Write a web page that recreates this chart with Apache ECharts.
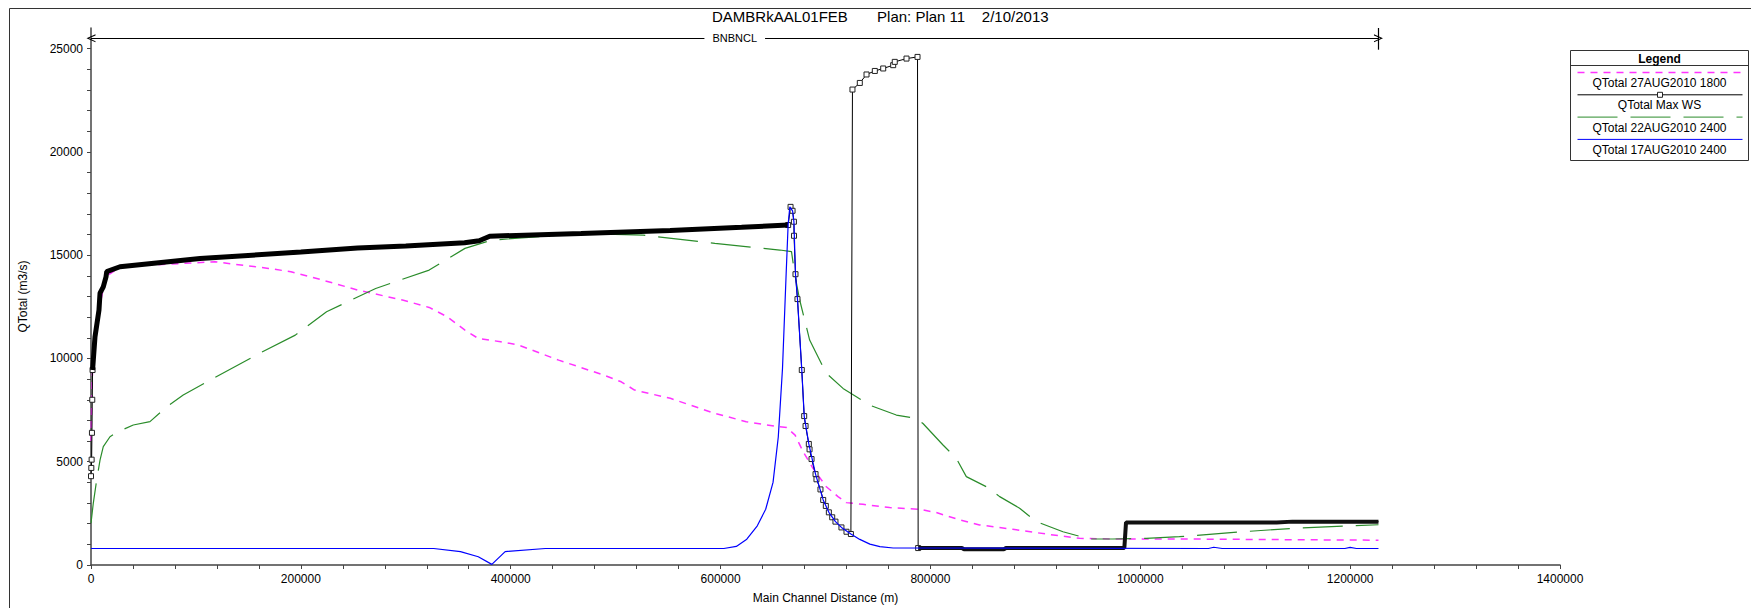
<!DOCTYPE html>
<html>
<head>
<meta charset="utf-8">
<script src="https://cdn.jsdelivr.net/npm/echarts@6/dist/echarts.min.js"></script>
<style>
  html, body { margin: 0; padding: 0; background: #fff; }
  #chart { width: 1751px; height: 608px; }
</style>
</head>
<body>
<div id="chart"></div>
<script>
// axis ticks
const xTickLabels = [0, 200000, 400000, 600000, 800000, 1000000, 1200000, 1400000]
const yTickLabels = [0, 5000, 10000, 15000, 20000, 25000]

// QTotal 27AUG2010 1800 (magenta dashed)
const aug27Dist = [0, 700, 1500, 3800, 7600, 11700, 15000, 28800, 118200, 169200, 190500, 220300, 254300, 296800,
  322300, 339400, 356400, 369100, 390400, 407400, 445700, 488300, 505300, 518000, 552100, 594600, 624400, 654200,
  663000, 671000, 678600, 688100, 700800, 711900, 719800, 735700, 761100, 789600, 805500, 827700, 846800, 878500,
  910300, 942000, 973800, 1037300, 1130000, 1227000]
const aug27Q = [6000, 8000, 9500, 11000, 12300, 13400, 14000, 14450, 14680, 14360, 14200, 13800, 13310, 12830,
  12470, 12020, 11370, 10970, 10810, 10650, 9920, 9200, 8870, 8470, 8070, 7340, 6940, 6700,
  6660, 6290, 5490, 4680, 3790, 3310, 3020, 2940, 2780, 2700, 2540, 2190, 1940, 1730,
  1500, 1290, 1260, 1260, 1230, 1200]

// QTotal Max WS (black with square markers)
const maxWsDist = [0, 300, 600, 900, 1200, 1500, 3800, 7600, 8600, 11700, 14300, 15000, 27600, 103900, 200000,
  254000, 300000, 356000, 370000, 380000, 467000, 552000, 620000, 664400, 666700, 668600, 669900, 670000, 671400,
  673300, 677400, 679700, 681000, 684100, 684800, 686700, 690500, 691400, 695200, 697800, 700300, 703200, 706400,
  709500, 715200, 720000, 724200, 725700, 732700, 739100, 747000, 755000, 764500, 766000, 777200, 787700, 788300,
  830000, 832000, 870000, 872000, 984800, 986400, 1130000, 1145000, 1227000]
const maxWsQ = [4300, 4700, 5100, 6400, 8000, 9440, 11050, 12340, 13160, 13470, 13950, 14200, 14440, 14840, 15150,
  15350, 15450, 15600, 15700, 15920, 16050, 16200, 16350, 16460, 17340, 17150, 16620, 15940, 14080,
  12875, 9440, 7210, 6730, 5860, 5600, 5130, 4400, 4150, 3660, 3150, 2860, 2550, 2310,
  2100, 1820, 1610, 1500, 23020, 23340, 23750, 23920, 24040, 24200, 24360, 24520, 24600, 820,
  820, 760, 760, 820, 820, 2060, 2060, 2100, 2100]

// QTotal 22AUG2010 2400 (green long dash)
const aug22Dist = [0, 2200, 5400, 8600, 11700, 18100, 25700, 40300, 56200, 72100, 87900, 113400, 160700, 194700,
  224500, 271300, 322300, 356400, 381900, 467000, 526500, 594600, 656500, 667600, 670600, 675400, 684900, 691300,
  700800, 716700, 729400, 742100, 767500, 786600, 792900, 812000, 824700, 834200, 853300, 866000, 885000, 900900,
  926300, 951700, 973900, 1005600, 1037300, 1100000, 1150000, 1227000]
const aug22Q = [2030, 3000, 4110, 5080, 5730, 6210, 6450, 6780, 6940, 7660, 8230, 8950, 10250, 11130,
  12260, 13390, 14280, 15330, 15730, 16050, 15970, 15570, 15250, 15170, 14110, 12830, 10890, 10240,
  9280, 8550, 8150, 7740, 7260, 7100, 6850, 5810, 5160, 4280, 3790, 3310, 2750, 2100,
  1610, 1260, 1260, 1290, 1370, 1620, 1790, 1950]

// QTotal 17AUG2010 2400 (blue)
const aug17Dist = [0, 110000, 326600, 352100, 369100, 382000, 394700, 433000, 603100, 615000, 625000, 635000,
  643000, 650000, 655000, 659000, 662500, 664400, 666000, 668600, 669900, 671400, 673300, 677400, 679700, 684100,
  690500, 697800, 703200, 709500, 715200, 724200, 732700, 742300, 751800, 764500, 1065000, 1070000, 1078000,
  1195000, 1200000, 1206000, 1227000]
const aug17Q = [800, 800, 800, 650, 400, 30, 650, 800, 800, 900, 1250, 1900,
  2700, 4000, 6200, 9500, 14100, 16500, 17340, 17150, 16620, 14080, 12875, 9440, 7210, 5860,
  4400, 3150, 2550, 2100, 1820, 1500, 1240, 1010, 890, 823, 800, 860, 800,
  800, 850, 800, 800]

const seriesNames = ['QTotal 27AUG2010 1800', 'QTotal Max WS', 'QTotal 22AUG2010 2400', 'QTotal 17AUG2010 2400']
const seriesColors = ['#ff33ff', '#000000', '#2a8c2a', '#0000ff']
const seriesDash = [[7, 6], 'solid', [40, 13], 'solid']

const zip = (d, q) => d.map((x, i) => [x, q[i]])
const maxWsPoints = zip(maxWsDist, maxWsQ)

const FONT = "'Liberation Sans', Arial, sans-serif"

// minor ticks for axes
const yMinor = []
for (let v = 0; v <= 25000; v += 1000) yMinor.push(v)
const xMinor = []
for (let v = 0; v <= 1400000; v += 40000) xMinor.push(v)

const chevron = 'path://M0,10 L5,0 L10,10 L8.6,10 L5,2.8 L1.4,10 Z'

// the band stretches are so dense with markers that they read as a thick line
const inBand = x => (x > 1500 && x < 664400) || x > 788300

// legend box built from the series names/styles
const legendChildren = [
  { type: 'rect', shape: { x: 0, y: 0, width: 178, height: 110 }, style: { fill: '#fff', stroke: '#333', lineWidth: 1 } },
  { type: 'line', shape: { x1: 0, y1: 15, x2: 178, y2: 15 }, style: { stroke: '#333', lineWidth: 1 } },
  { type: 'text', x: 89, y: 8, style: { text: 'Legend', font: 'bold 12px ' + FONT, fill: '#000', align: 'center', verticalAlign: 'middle' } }
]
seriesNames.forEach((name, i) => {
  const ly = 22 + i * 22.3
  legendChildren.push({
    type: 'line',
    shape: { x1: 7, y1: ly, x2: 172, y2: ly },
    style: { stroke: seriesColors[i], lineWidth: i === 0 ? 1.5 : 1, lineDash: seriesDash[i] === 'solid' ? null : seriesDash[i] }
  })
  if (i === 1) {
    legendChildren.push({ type: 'rect', shape: { x: 87, y: ly - 2.5, width: 5, height: 5 }, style: { fill: '#fff', stroke: '#222', lineWidth: 1 } })
  }
  legendChildren.push({
    type: 'text', x: 89, y: ly + 10.5,
    style: { text: name, font: '12px ' + FONT, fill: '#000', align: 'center', verticalAlign: 'middle' }
  })
})

const chart = echarts.init(document.getElementById('chart'), null, { renderer: 'svg' })

const sp = n => '\u00a0'.repeat(n)

const option = {
  animation: false,
  backgroundColor: '#fff',
  textStyle: { fontFamily: FONT },
  title: {
    text: 'DAMBRkAAL01FEB' + sp(7) + 'Plan: Plan 11' + sp(4) + '2/10/2013',
    left: 712,
    top: 9,
    padding: 0,
    textStyle: { fontSize: 15, fontWeight: 'normal', color: '#000', fontFamily: FONT }
  },
  grid: {
    left: 91,
    right: 191,
    top: 28,
    bottom: 43,
    containLabel: false,
    outerBoundsMode: 'none'
  },
  xAxis: {
    type: 'value',
    min: 0,
    max: 1400000,
    name: 'Main Channel Distance (m)',
    nameLocation: 'middle',
    nameGap: 27,
    nameTextStyle: { fontSize: 12, color: '#000', fontFamily: FONT },
    axisLine: { show: true, onZero: false, lineStyle: { color: '#444', width: 1.5 } },
    axisTick: { show: true, customValues: xMinor, length: 4, lineStyle: { color: '#444' } },
    axisLabel: { customValues: xTickLabels, fontSize: 12, color: '#000', margin: 8, fontFamily: FONT, formatter: v => String(v) },
    splitLine: { show: false }
  },
  yAxis: {
    type: 'value',
    min: 0,
    max: 26000,
    name: 'QTotal (m3/s)',
    nameLocation: 'middle',
    nameGap: 62,
    nameRotate: 90,
    nameTextStyle: { fontSize: 12, color: '#000', fontFamily: FONT },
    axisLine: { show: true, onZero: false, lineStyle: { color: '#444', width: 1.5 } },
    axisTick: { show: true, customValues: yMinor, length: 4, lineStyle: { color: '#444' } },
    axisLabel: { customValues: yTickLabels, fontSize: 12, color: '#000', margin: 8, fontFamily: FONT, formatter: v => String(v) },
    splitLine: { show: false }
  },
  graphic: [
    {
      type: 'rect', left: 7, top: 6, silent: true,
      shape: { x: 0, y: 0, width: 1760, height: 620 },
      style: { fill: 'none', stroke: '#333', lineWidth: 1 }
    },
    { type: 'group', left: 1568, top: 50, children: legendChildren }
  ],
  series: [
    {
      name: seriesNames[0],
      type: 'line',
      data: zip(aug27Dist, aug27Q),
      showSymbol: false,
      lineStyle: { color: seriesColors[0], width: 1.5, type: seriesDash[0] },
      z: 2
    },
    {
      name: seriesNames[2],
      type: 'line',
      data: zip(aug22Dist, aug22Q),
      showSymbol: false,
      lineStyle: { color: seriesColors[2], width: 1.2, type: seriesDash[2] },
      z: 2
    },
    {
      name: seriesNames[1],
      type: 'line',
      data: maxWsPoints,
      symbol: v => (inBand(v[0]) ? 'none' : 'rect'),
      symbolSize: 5,
      showAllSymbol: true,
      itemStyle: { color: '#fff', borderColor: '#222', borderWidth: 1 },
      lineStyle: { color: '#000', width: 1 },
      z: 3,
      markLine: {
        silent: true,
        animation: false,
        symbolSize: [8, 9],
        lineStyle: { color: '#000', width: 1.2, type: 'solid' },
        data: [
          [
            { coord: [0, 25500], symbol: chevron, label: { show: true, formatter: 'BNBNCL', position: 'middle', distance: 0, verticalAlign: 'middle', color: '#000', fontSize: 11, backgroundColor: '#fff', padding: [0, 8], fontFamily: FONT } },
            { coord: [1227000, 25500], symbol: chevron }
          ],
          [
            { coord: [1227000, 24950], symbol: 'none', label: { show: false } },
            { coord: [1227000, 26000], symbol: 'none' }
          ]
        ]
      }
    },
    {
      name: seriesNames[1] + ' band',
      type: 'line',
      data: maxWsPoints.filter(p => p[0] >= 1500 && p[0] <= 664400),
      showSymbol: false,
      lineStyle: { color: '#000', width: 5 },
      z: 4
    },
    {
      name: seriesNames[1] + ' band 2',
      type: 'line',
      data: maxWsPoints.filter(p => p[0] >= 788300),
      showSymbol: false,
      lineStyle: { color: '#111', width: 4 },
      z: 4
    },
    {
      name: seriesNames[3],
      type: 'line',
      data: zip(aug17Dist, aug17Q),
      showSymbol: false,
      lineStyle: { color: seriesColors[3], width: 1.2 },
      z: 5
    }
  ]
}

chart.setOption(option)
</script>
</body>
</html>
